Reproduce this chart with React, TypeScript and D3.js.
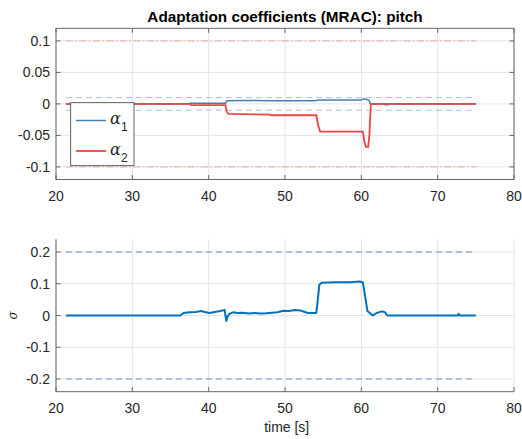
import React from "react";
import * as d3 from "d3";

// ---- data ----
const xTicks = [20, 30, 40, 50, 60, 70, 80];
const yTicksTop = [0.1, 0.05, 0, -0.05, -0.1];
const yTicksTopLabels = ["0.1", "0.05", "0", "-0.05", "-0.1"];
const yTicksBot = [0.2, 0.1, 0, -0.1, -0.2];
const yTicksBotLabels = ["0.2", "0.1", "0", "-0.1", "-0.2"];

const boundStartEnd = [21.3, 75];
const alphaBand = 0.01;
const alphaLimit = 0.1;
const sigmaLimit = 0.2;

const alpha1T = [21.3, 37.4, 37.5, 42.2, 42.4, 45, 48, 54, 54.3, 60.0, 60.3, 60.7, 61.0, 61.2, 63.0, 63.1, 63.5, 63.6, 75];
const alpha1V = [0, 0, 0.001, 0.001, 0.005, 0.0055, 0.005, 0.005, 0.006, 0.006, 0.008, 0.007, 0.006, 0, 0, -0.0015, -0.0015, 0, 0];

const alpha2T = [21.3, 37.6, 37.7, 42.2, 42.35, 42.6, 48, 48.2, 54.1, 54.3, 54.6, 60.2, 60.4, 60.6, 60.9, 61.05, 61.25, 75];
const alpha2V = [0, 0, -0.002, -0.002, -0.012, -0.016, -0.017, -0.018, -0.018, -0.032, -0.044, -0.044, -0.06, -0.068, -0.068, -0.05, 0, 0];

const sigmaT = [21.3, 36.3, 36.7, 37.5, 38.3, 39.0, 39.5, 40.1, 40.8, 41.5, 42.1, 42.3, 42.45, 42.7, 43.2, 43.8, 44.5, 45.3, 46.0, 46.8, 47.5, 48.3, 49.0, 49.8, 50.5, 51.3, 52.0, 52.5, 53.0, 54.1, 54.3, 54.5, 54.8, 55.5, 57, 58.5, 59.8, 60.2, 60.5, 60.8, 61.1, 61.5, 62.0, 62.7, 63.1, 63.4, 72.6, 72.75, 72.9, 75];
const sigmaV = [0, 0, 0.008, 0.01, 0.011, 0.014, 0.011, 0.008, 0.011, 0.014, 0.017, -0.017, -0.005, 0.005, 0.01, 0.008, 0.009, 0.006, 0.008, 0.006, 0.007, 0.009, 0.01, 0.015, 0.014, 0.017, 0.016, 0.012, 0.008, 0.008, 0.05, 0.097, 0.103, 0.104, 0.105, 0.105, 0.107, 0.104, 0.06, 0.014, 0.008, 0.0, 0.008, 0.013, 0.01, 0, 0, 0.005, 0, 0];

const W = 522;
const H = 439;
const FONT = "'Liberation Sans', Arial, Helvetica, sans-serif";
const TXT = "#262626";
const AX = "#666666";
const GRID = "#e3e3e3";

export default function App() {
  const x = d3.scaleLinear().domain([20, 80]).range([56, 514]);
  const yT = d3.scaleLinear().domain([-0.12, 0.12]).range([179.5, 28.3]);
  const yB = d3.scaleLinear().domain([-0.24, 0.24]).range([391.7, 239.3]);

  const mk = (ys: d3.ScaleLinear<number, number>) =>
    d3
      .line<[number, number]>()
      .x((d) => x(d[0]))
      .y((d) => ys(d[1]));

  const lineT = mk(yT);
  const lineB = mk(yB);
  const pts = (t: number[], v: number[]) => t.map((ti, i) => [ti, v[i]] as [number, number]);

  const hline = (ys: d3.ScaleLinear<number, number>, v: number) =>
    mk(ys)([
      [boundStartEnd[0], v],
      [boundStartEnd[1], v],
    ]) as string;

  const axes = (
    ys: d3.ScaleLinear<number, number>,
    ticks: number[],
    labels: string[],
    top: number,
    bottom: number,
    box: boolean
  ) => (
    <g>
      {xTicks.map((t) => (
        <line key={"gx" + t} x1={x(t)} x2={x(t)} y1={top} y2={bottom} stroke={GRID} strokeWidth={1} />
      ))}
      {ticks.map((t) => (
        <line key={"gy" + t} x1={x(20)} x2={x(80)} y1={ys(t)} y2={ys(t)} stroke={GRID} strokeWidth={1} />
      ))}
      <line x1={x(20)} x2={x(80)} y1={bottom} y2={bottom} stroke={AX} strokeWidth={1} />
      <line x1={x(20)} x2={x(20)} y1={top} y2={bottom} stroke={AX} strokeWidth={1} />
      {box && <line x1={x(20)} x2={x(80)} y1={top} y2={top} stroke={AX} strokeWidth={1} />}
      {box && <line x1={x(80)} x2={x(80)} y1={top} y2={bottom} stroke={AX} strokeWidth={1} />}
      {xTicks.map((t) => (
        <line key={"tx" + t} x1={x(t)} x2={x(t)} y1={bottom} y2={bottom - 4.5} stroke={AX} strokeWidth={1} />
      ))}
      {box &&
        xTicks.map((t) => (
          <line key={"txt" + t} x1={x(t)} x2={x(t)} y1={top} y2={top + 4.5} stroke={AX} strokeWidth={1} />
        ))}
      {ticks.map((t) => (
        <line key={"ty" + t} x1={x(20)} x2={x(20) + 4.5} y1={ys(t)} y2={ys(t)} stroke={AX} strokeWidth={1} />
      ))}
      {box &&
        ticks.map((t) => (
          <line key={"tyr" + t} x1={x(80)} x2={x(80) - 4.5} y1={ys(t)} y2={ys(t)} stroke={AX} strokeWidth={1} />
        ))}
      {xTicks.map((t) => (
        <text key={"lx" + t} x={x(t)} y={bottom + 21} textAnchor="middle" fontSize={14} fill={TXT} fontFamily={FONT}>
          {t}
        </text>
      ))}
      {ticks.map((t, i) => (
        <text key={"ly" + t} x={50} y={ys(t) + 5} textAnchor="end" fontSize={14} fill={TXT} fontFamily={FONT}>
          {labels[i]}
        </text>
      ))}
    </g>
  );

  return (
    <svg width={W} height={H} style={{ position: "absolute", left: 0, top: 0, background: "#fff" }}>
      <rect x={0} y={0} width={W} height={H} fill="#fff" />
      {/* top subplot */}
      {axes(yT, yTicksTop, yTicksTopLabels, 28.3, 179.5, true)}
      <path d={hline(yT, alphaLimit)} stroke="#f4a3a3" strokeWidth={1} strokeDasharray="7,2.5,1.5,2.5" fill="none" />
      <path d={hline(yT, -alphaLimit)} stroke="#f4a3a3" strokeWidth={1} strokeDasharray="7,2.5,1.5,2.5" fill="none" />
      <path d={hline(yT, alphaBand)} stroke="#a9c0dc" strokeWidth={1} strokeDasharray="6,4" fill="none" />
      <path d={hline(yT, -alphaBand)} stroke="#a9c0dc" strokeWidth={1} strokeDasharray="6,4" fill="none" />
      <path d={lineT(pts(alpha1T, alpha1V)) as string} stroke="#4a7db4" strokeWidth={1.5} fill="none" />
      <path d={lineT(pts(alpha2T, alpha2V)) as string} stroke="#ee4444" strokeWidth={1.8} fill="none" />
      <text x={285} y={22} textAnchor="middle" fontSize={15.3} fontWeight="bold" fill="#000" fontFamily={FONT}>
        Adaptation coefficients (MRAC): pitch
      </text>
      {/* legend */}
      <rect x={70.7} y={102.7} width={63.3} height={63} fill="#fff" stroke="#3a3a3a" strokeWidth={0.8} />
      <line x1={76} x2={106} y1={120.5} y2={120.5} stroke="#4a7db4" strokeWidth={1.5} />
      <line x1={76} x2={106} y1={151} y2={151} stroke="#ee4444" strokeWidth={1.8} />
      <text x={110} y={124} fontSize={16} fill={TXT} fontFamily="'DejaVu Serif', serif" fontStyle="italic">
        α
      </text>
      <text x={121} y={131} fontSize={12} fill={TXT} fontFamily={FONT}>
        1
      </text>
      <text x={110} y={154.5} fontSize={16} fill={TXT} fontFamily="'DejaVu Serif', serif" fontStyle="italic">
        α
      </text>
      <text x={121} y={161.5} fontSize={12} fill={TXT} fontFamily={FONT}>
        2
      </text>

      {/* bottom subplot */}
      {axes(yB, yTicksBot, yTicksBotLabels, 239.3, 391.7, false)}
      <path d={hline(yB, sigmaLimit)} stroke="#6f93c4" strokeWidth={1} strokeDasharray="6,4" fill="none" />
      <path d={hline(yB, -sigmaLimit)} stroke="#6f93c4" strokeWidth={1} strokeDasharray="6,4" fill="none" />
      <path d={lineB(pts(sigmaT, sigmaV)) as string} stroke="#0072bd" strokeWidth={2} fill="none" strokeLinejoin="round" />
      <text x={286.7} y={432} textAnchor="middle" fontSize={14} fill={TXT} fontFamily={FONT}>
        time [s]
      </text>
      <text
        x={0}
        y={0}
        transform={`translate(17, ${yB(0)}) rotate(-90)`}
        textAnchor="middle"
        fontSize={12}
        fill={TXT}
        fontFamily="'DejaVu Serif', serif"
        fontStyle="italic"
      >
        σ
      </text>
    </svg>
  );
}
